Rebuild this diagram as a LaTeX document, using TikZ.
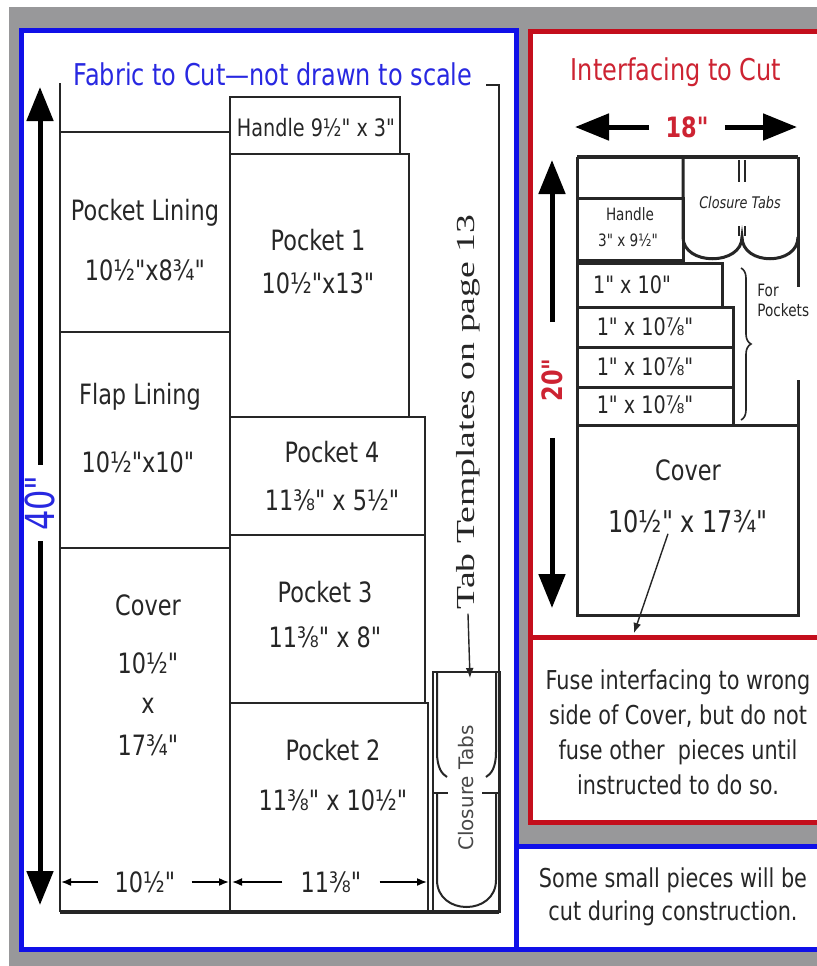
\documentclass[tikz,border=0pt]{standalone}
\usepackage{fontspec}
\setmainfont{DejaVu Sans}[FakeStretch=0.8,Ligatures=TeXOff]
\newfontfamily\widefont{DejaVu Sans}[Ligatures=TeXOff]
\newfontfamily\tplfont{Liberation Serif}
\usetikzlibrary{arrows.meta,decorations.pathreplacing}
\definecolor{panelblue}{RGB}{16,16,232}
\definecolor{panelred}{RGB}{196,14,28}
\definecolor{titleblue}{RGB}{40,40,225}
\definecolor{titlered}{RGB}{205,35,50}
\definecolor{bggray}{RGB}{152,152,154}
\definecolor{ink}{RGB}{38,38,38}
\begin{document}
\begin{tikzpicture}[x=0.5pt,y=-0.5pt,
  cut/.style={draw=ink,line width=1pt},
  icut/.style={draw=ink,line width=1.5pt},
  lbl/.style={text=ink,inner sep=0pt,font=\fontsize{14}{16}\selectfont},
  small/.style={text=ink,inner sep=0pt,font=\fontsize{12}{14}\selectfont},
  tiny/.style={text=ink,inner sep=0pt,font=\fontsize{8.5}{10}\selectfont},
  bigarrow/.style={line width=2.5pt,-{Triangle[width=13pt,length=17pt]}},
  dimarrow/.style={line width=0.8pt,-{Latex[width=4pt,length=5pt]}},
  ptr/.style={line width=0.7pt,-{Latex[width=4pt,length=5pt]}}]
\useasboundingbox (0,0) rectangle (817,966);

% background and panels
\fill[bggray] (9,7) rectangle (817,966);
\draw[panelblue,line width=2.5pt,fill=white] (21,30) rectangle (516,949);
\draw[panelred,line width=2.5pt,fill=white] (530,31) rectangle (826,822);
\draw[panelred,line width=2.5pt] (530,637) -- (826,637);
\draw[panelblue,line width=2.5pt,fill=white] (516,846) rectangle (826,949);

% fabric layout
\node[text=titleblue,font=\fontsize{15}{18}\selectfont] (fabtitle) at (273,74) {Fabric to Cut—not drawn to scale};
\draw[ink,line width=1.2pt] (486,85) -- (499,85) -- (499,912);
\draw[ink,line width=2.2pt] (499,912) -- (60,912);
\draw[ink,line width=1.2pt] (60,83) -- (60,912);
\draw[cut] (60,132) -- (230,132);
\draw[cut] (60,332) -- (230,332);
\draw[cut] (60,548) -- (230,548);
\draw[cut] (230,97) rectangle (400,154);
\draw[cut] (230,154) rectangle (409,417);
\draw[cut] (230,417) rectangle (425,535);
\draw[cut] (230,535) rectangle (425,703);
\draw[cut] (230,703) rectangle (428,912);
\draw[cut] (433,672) rectangle (500,912);
\draw[cut] (437,672) -- (437,752) .. controls (437,768) and (442,774) .. (447,777);
\draw[cut] (496,672) -- (496,752) .. controls (496,768) and (491,774) .. (486,777);
\draw[cut] (433,793) -- (448,793) (482,793) -- (500,793);
\draw[cut] (437,793) -- (437,880) .. controls (437,916) and (496,916) .. (496,880) -- (496,793);

\node[small] (lhandle) at (316,128) {Handle 9½" x 3"};
\node[lbl] (plin) at (145,213) {Pocket Lining};
\node[lbl] (plindim) at (145,270) {10½"x8¾"};
\node[lbl] (pk1) at (318,240) {Pocket 1};
\node[lbl] (pk1dim) at (318,283) {10½"x13"};
\node[lbl] (flin) at (140,397) {Flap Lining};
\node[lbl] (flindim) at (138,462) {10½"x10"};
\node[lbl] (pk4) at (332,452) {Pocket 4};
\node[lbl] (pk4dim) at (332,500) {11⅜" x 5½"};
\node[lbl] (lcover) at (148,605) {Cover};
\node[lbl] (lcovw) at (148,663) {10½"};
\node[lbl] (lcovx) at (148,706) {x};
\node[lbl] (lcovh) at (148,745) {17¾"};
\node[lbl] (pk3) at (325,592) {Pocket 3};
\node[lbl] (pk3dim) at (325,637) {11⅜" x 8"};
\node[lbl] (pk2) at (333,750) {Pocket 2};
\node[lbl] (pk2dim) at (333,800) {11⅜" x 10½"};

\node[rotate=90,text=ink,inner sep=2pt,font=\tplfont\fontsize{13}{15}\selectfont] (tabtpl) at (468,412) {\scalebox{1.45}[1]{Tab Templates on page 13}};
\coordinate (tabtip) at (470,678);
\draw[ptr,ink] (tabtpl.west) -- (tabtip);
\node[rotate=90,text=ink!85,inner sep=0pt,font=\widefont\fontsize{10}{12}\selectfont] (lcltabs) at (466,788) {Closure Tabs};

\node[rotate=90,text=titleblue,inner sep=5pt,font=\fontsize{20}{22}\selectfont] (len40) at (40,503) {40"};
\coordinate (top40) at (40,87);
\coordinate (bot40) at (40,905);
\draw[bigarrow] (len40.east) -- (top40);
\draw[bigarrow] (len40.west) -- (bot40);

\node[lbl,inner xsep=8pt] (w105) at (145,882) {10½"};
\node[lbl,inner xsep=9pt] (w118) at (331,882) {11⅜"};
\coordinate (w105l) at (61,882);
\coordinate (w105r) at (229,882);
\coordinate (w118l) at (232,882);
\coordinate (w118r) at (427,882);
\draw[dimarrow] (w105.west) -- (w105l);
\draw[dimarrow] (w105.east) -- (w105r);
\draw[dimarrow] (w118.west) -- (w118l);
\draw[dimarrow] (w118.east) -- (w118r);

% interfacing layout
\node[text=titlered,font=\fontsize{15}{18}\selectfont] (inttitle) at (676,72) {Interfacing to Cut};
\node[text=titlered,inner sep=0pt,inner xsep=8pt,font=\bfseries\fontsize{14}{16}\selectfont] (w18) at (687,127) {18"};
\coordinate (w18l) at (575,127);
\coordinate (w18r) at (797,127);
\draw[bigarrow] (w18.west) -- (w18l);
\draw[bigarrow] (w18.east) -- (w18r);
\node[rotate=90,text=titlered,inner sep=0pt,inner xsep=18pt,font=\bfseries\fontsize{14}{16}\selectfont] (len20) at (552,380) {20"};
\coordinate (top20) at (552,160);
\coordinate (bot20) at (552,608);
\draw[bigarrow] (len20.east) -- (top20);
\draw[bigarrow] (len20.west) -- (bot20);

\draw[ink,line width=2pt] (577,157) -- (798,157);
\draw[icut] (798,157) -- (798,287);
\draw[icut] (798,380) -- (798,425);
\draw[icut] (577,157) -- (577,615);
\draw[icut] (577,425) rectangle (798,615);
\draw[icut] (577,198) rectangle (683,260);
\draw[icut] (683,157) -- (683,237) .. controls (683,266) and (742,266) .. (742,237) .. controls (742,266) and (798,266) .. (798,237);
\draw[ink,line width=0.8pt] (739,160) -- (739,182) (745,160) -- (745,182) (739,226) -- (739,236) (745,226) -- (745,236);
\draw[icut] (577,263) rectangle (722,307);
\draw[icut] (577,307) rectangle (733,347);
\draw[icut] (577,347) rectangle (733,387);
\draw[icut] (577,387) rectangle (733,425);
\draw[ink,line width=0.8pt,decorate,decoration={brace,amplitude=5pt}] (741,268) -- (741,420);

\node[tiny] (rhandle) at (630,214) {Handle};
\node[tiny] (rhandledim) at (628,240) {3" x 9½"};
\node[tiny,font=\itshape\fontsize{8}{10}\selectfont] (rcltabs) at (740,203) {Closure Tabs};
\node[small] (strip1) at (632,285) {1" x 10"};
\node[small] (strip2) at (645,327) {1" x 10⅞"};
\node[small] (strip3) at (645,367) {1" x 10⅞"};
\node[small] (strip4) at (645,405) {1" x 10⅞"};
\node[tiny,align=left,anchor=west] (forpk) at (757,300) {For\\Pockets};
\node[lbl] (rcover) at (688,470) {Cover};
\node[lbl,font=\fontsize{15}{17}\selectfont] (rcvdim) at (688,522) {10½" x 17¾"};
\coordinate (fuseline) at (634,633);
\draw[ptr,ink] ([xshift=-10pt]rcvdim.south) -- (fuseline);

\node[text=ink,align=center,font=\fontsize{13}{17.5}\selectfont] (fusenote) at (678,732) {Fuse interfacing to wrong\\side of Cover, but do not\\fuse other\ \ pieces until\\instructed to do so.};
\node[text=ink,align=center,font=\fontsize{13}{16.5}\selectfont] (smallnote) at (673,897) {Some small pieces will be\\cut during construction.};
\end{tikzpicture}
\end{document}
